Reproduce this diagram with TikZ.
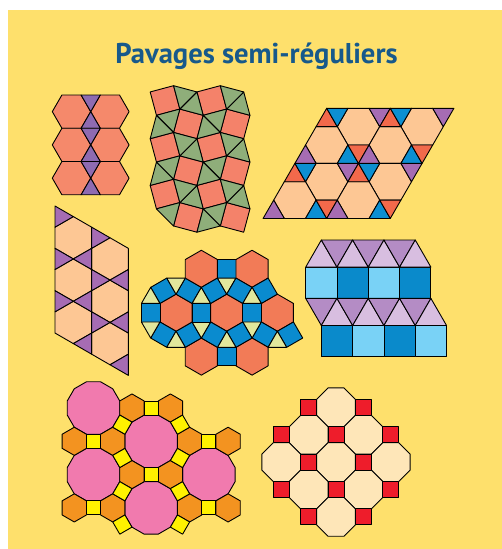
\documentclass[tikz,border=0pt]{standalone}
\usepackage{fontspec}
\setmainfont{PT Sans}
\usetikzlibrary{calc}
\definecolor{paper}{HTML}{FEE06C}
\definecolor{titleblue}{HTML}{17598B}
\definecolor{salmonA}{HTML}{F5896B}
\definecolor{violetA}{HTML}{8F6BB1}
\definecolor{salmonB}{HTML}{F4826A}
\definecolor{greenB}{HTML}{8FAE7A}
\definecolor{peach}{HTML}{FDC794}
\definecolor{triRed}{HTML}{F2694B}
\definecolor{triBlue}{HTML}{0C8FD2}
\definecolor{triPurple}{HTML}{A66CB3}
\definecolor{hexRed}{HTML}{F27B57}
\definecolor{sqBlue}{HTML}{0A8BCF}
\definecolor{triPale}{HTML}{E1E79C}
\definecolor{lilacL}{HTML}{D8BEE0}
\definecolor{lilacD}{HTML}{B48CC5}
\definecolor{blueL}{HTML}{79D2F6}
\definecolor{blueD}{HTML}{0A8ACB}
\definecolor{pinkD}{HTML}{F17AAE}
\definecolor{orangeH}{HTML}{F39320}
\definecolor{yellowS}{HTML}{FFF100}
\definecolor{cream}{HTML}{FEE6B8}
\definecolor{redS}{HTML}{EE1D2B}
\tikzset{
  tile/.style={draw=black, line width=0.9pt, line join=round},
}
% regular polygon: fill, centre, number of sides, radius, first angle
\newcommand{\rpoly}[5]{%
  \pgfmathtruncatemacro{\lastk}{#3-1}%
  \filldraw[tile, fill=#1, shift={(#2)}] ({#5}:{#4})
    \foreach \kk in {1,...,\lastk}{ -- ({#5+360*\kk/#3}:{#4})} -- cycle;}

\begin{document}
\begin{tikzpicture}[x=1pt,y=-1pt]
  \useasboundingbox (0,0) rectangle (502,549);
  \fill[white] (0,0) rectangle (502,549);
  \fill[paper] (8,10) rectangle (502,549);
  \node[anchor=base, text=titleblue, font=\fontsize{28.6}{34}\selectfont\bfseries] (title) at (256.5,63) {Pavages semi-réguliers};

  % 1: hexagons with bow ties
  \foreach \r in {0,1,2}{
    \pgfmathsetmacro{\yt}{95+33.26*\r}
    \rpoly{salmonA}{71.5,\yt+16.63}{6}{19.2}{0}
    \rpoly{salmonA}{109.9,\yt+16.63}{6}{19.2}{0}
    \filldraw[tile,fill=violetA] (81.1,\yt) -- (100.3,\yt) -- (90.7,\yt+16.63) -- cycle;
    \filldraw[tile,fill=violetA] (90.7,\yt+16.63) -- (100.3,\yt+33.26) -- (81.1,\yt+33.26) -- cycle;
  }

  % 2: snub square tiling
  \begin{scope}[shift={(165,100.5)}]
    \foreach \i/\j in {0/0,2/0,0/2,2/2,0/4,2/4,1/1,3/1,1/3,3/3,1/5,3/5}{
      \pgfmathsetmacro{\rot}{30+30*mod(\i,2)}
      \rpoly{salmonB}{23.38*\i,23.38*\j}{4}{17.11}{\rot}
    }
    \foreach \i/\j in {1/0,3/0,1/2,3/2,1/4,3/4}{
      \begin{scope}[shift={(23.38*\i,23.38*\j)}]
        \filldraw[tile,fill=greenB] (-8.56,8.56) -- (14.82,14.82) -- (8.56,-8.56) -- cycle;
        \filldraw[tile,fill=greenB] (-8.56,8.56) -- (8.56,-8.56) -- (-14.82,-14.82) -- cycle;
      \end{scope}
    }
    \foreach \i/\j in {0/1,2/1,0/3,2/3,2/5,0/5}{
      \begin{scope}[shift={(23.38*\i,23.38*\j)}]
        \filldraw[tile,fill=greenB] (14.82,-14.82) -- (8.56,8.56) -- (-8.56,-8.56) -- cycle;
        \ifnum\j<5 \filldraw[tile,fill=greenB] (8.56,8.56) -- (-14.82,14.82) -- (-8.56,-8.56) -- cycle;\fi
        \ifnum\i>0 \ifnum\j=5 \filldraw[tile,fill=greenB] (8.56,8.56) -- (-14.82,14.82) -- (-8.56,-8.56) -- cycle;\fi\fi
      \end{scope}
    }
  \end{scope}

  % 3: hexagons and coloured triangles in a parallelogram
  \begin{scope}[shift={(326.7,108.3)}, x={(21.2pt,0pt)}, y={(-10.6pt,-18.36pt)}]
    \foreach \u/\v in {2/1,5/1,1/2,4/2,2/4,5/4,1/5,4/5}{
      \filldraw[tile,fill=peach] (\u+1,\v) -- (\u+1,\v+1) -- (\u,\v+1) -- (\u-1,\v) -- (\u-1,\v-1) -- (\u,\v-1) -- cycle;
    }
    \foreach \v in {0,3}{
      \foreach \w in {0,3}{
        \filldraw[tile,fill=triRed] (\w,\v) -- (\w,\v+1) -- (\w+1,\v+1) -- cycle;
        \filldraw[tile,fill=triBlue] (\w,\v) -- (\w+1,\v) -- (\w+1,\v+1) -- cycle;
        \filldraw[tile,fill=triPurple] (\w+2,\v) -- (\w+3,\v) -- (\w+3,\v+1) -- cycle;
      }
    }
    \foreach \v in {2,5}{
      \foreach \w in {0,3}{
        \filldraw[tile,fill=triPurple] (\w,\v) -- (\w,\v+1) -- (\w+1,\v+1) -- cycle;
        \filldraw[tile,fill=triBlue] (\w+2,\v) -- (\w+2,\v+1) -- (\w+3,\v+1) -- cycle;
        \filldraw[tile,fill=triRed] (\w+2,\v) -- (\w+3,\v) -- (\w+3,\v+1) -- cycle;
      }
    }
  \end{scope}

  % 4: same tiling turned, purple triangles only
  \begin{scope}[shift={(55,206)}, x={(0pt,-21.17pt)}, y={(18.33pt,-10.585pt)}]
    \foreach \u/\v in {1/1,3/1,5/1,1/3,3/3,5/3}{
      \filldraw[tile,fill=peach] (\u-1,\v) -- (\u-1,\v+1) -- (\u,\v+1) -- (\u+1,\v) -- (\u+1,\v-1) -- (\u,\v-1) -- cycle;
    }
    \foreach \a/\b/\c/\d/\e/\f in {0/0/0/1/1/0, 2/0/2/1/3/0, 1/2/2/1/2/2, 4/0/4/1/5/0, 3/2/4/1/4/2, 6/1/5/2/6/2,
                                   0/2/0/3/1/2, 2/2/2/3/3/2, 1/4/2/3/2/4, 4/2/4/3/5/2, 3/4/4/3/4/4, 5/4/6/3/6/4}{
      \filldraw[tile,fill=triPurple] (\a,\b) -- (\c,\d) -- (\e,\f) -- cycle;
    }
  \end{scope}

  % 5: rhombitrihexagonal patch
  \begin{scope}[shift={(226.7,312.7)}]
    \rpoly{hexRed}{0,0}{6}{18.55}{30}
    \foreach \p in {0,60,...,300}{
      \rpoly{hexRed}{\p:50.68}{6}{18.55}{30}
      \rpoly{sqBlue}{\p:25.34}{4}{13.12}{\p+45}
      \rpoly{sqBlue}{\p+30:43.89}{4}{13.12}{\p+75}
      \rpoly{triPale}{\p+30:29.26}{3}{10.71}{\p+90}
    }
    % outer rim
    \rpoly{sqBlue}{-76.02,0}{4}{13.12}{225}
    \rpoly{sqBlue}{-63.35,-21.94}{4}{13.12}{285}
    \rpoly{sqBlue}{-63.35,21.94}{4}{13.12}{165}
    \rpoly{sqBlue}{63.35,21.94}{4}{13.12}{105}
    \rpoly{triPale}{-76.02,-14.63}{3}{10.71}{270}
    \rpoly{triPale}{-76.02,14.63}{3}{10.71}{90}
    \rpoly{triPale}{-50.68,-29.26}{3}{10.71}{90}
    \rpoly{triPale}{-50.68,29.26}{3}{10.71}{270}
    \rpoly{triPale}{50.68,29.26}{3}{10.71}{270}
  \end{scope}

  % 6: rows of squares and triangles
  \foreach \k in {0,...,3}{
    \pgfmathsetmacro{\xa}{305.7+31.3*\k}
    \pgfmathsetmacro{\xb}{321.35+31.3*\k}
    \pgfmathtruncatemacro{\odd}{mod(\k,2)}
    \ifnum\odd=0 \def\cA{blueL}\def\cB{blueD}\else\def\cA{blueD}\def\cB{blueL}\fi
    \filldraw[tile,fill=\cA] (\xa,267.1) rectangle (\xa+31.3,298.4);
    \filldraw[tile,fill=\cB] (\xb,325.5) rectangle (\xb+31.3,356.8);
    \filldraw[tile,fill=lilacL] (\xa,267.1) -- (\xa+31.3,267.1) -- (\xb,240) -- cycle;
    \filldraw[tile,fill=lilacD] (\xa,298.4) -- (\xa+31.3,298.4) -- (\xb,325.5) -- cycle;
    \filldraw[tile,fill=lilacL] (\xb,325.5) -- (\xb+31.3,325.5) -- (\xa+31.3,298.4) -- cycle;
    \ifnum\k<3 \filldraw[tile,fill=lilacD] (\xb,240) -- (\xb+31.3,240) -- (\xa+31.3,267.1) -- cycle;\fi
  }

  % 7: truncated trihexagonal patch
  \begin{scope}[shift={(93.5,408)}]
    \foreach \m/\n in {0/0,1/0,0/1,2/0,1/1}{
      \rpoly{pinkD}{57.68*\m,33.3*\m+66.6*\n}{12}{27.18}{15}
    }
    \foreach \m/\n/\t in {0/-1/2,1/-1/1,-1/0/2,0/0/1,1/-1/2,2/-1/1,0/0/2,1/0/1,-1/1/2,0/1/1,1/0/2,2/0/1}{
      \rpoly{orangeH}{57.68*\m+19.227*\t,33.3*\m+66.6*\n+33.3*\t}{6}{14.07}{30}
    }
    % squares on the lattice edges: e1 (30), e2 (90), e2-e1 (150)
    \foreach \m/\n in {1/-1,2/-1,1/0,2/0,0/1,0/0}{
      \rpoly{yellowS}{57.68*\m,33.3*\m+66.6*\n+33.3}{4}{9.95}{45}
    }
    \foreach \m/\n in {1/0,1/1,0/1,0/0}{
      \rpoly{yellowS}{57.68*\m+28.84,33.3*\m+66.6*\n+16.65}{4}{9.95}{75}
    }
    \foreach \m/\n in {2/-1,2/0,1/1,1/0}{
      \rpoly{yellowS}{57.68*\m-28.84,33.3*\m+66.6*\n+16.65}{4}{9.95}{15}
    }
  \end{scope}

  % 8: truncated square patch
  \begin{scope}[shift={(336,407.3)}]
    \foreach \i in {0,1,2}{
      \foreach \j in {0,1,2}{
        \rpoly{cream}{27.4*\i-27.4*\j,27.4*\i+27.4*\j}{8}{20.97}{22.5}
      }
    }
    \foreach \p/\q in {-1/0,1/0,-2/1,0/1,2/1,-1/2,1/2,-2/3,0/3,2/3,-1/4,1/4}{
      \rpoly{redS}{27.4*\p,27.4*\q}{4}{11.35}{45}
    }
  \end{scope}
\end{tikzpicture}
\end{document}
